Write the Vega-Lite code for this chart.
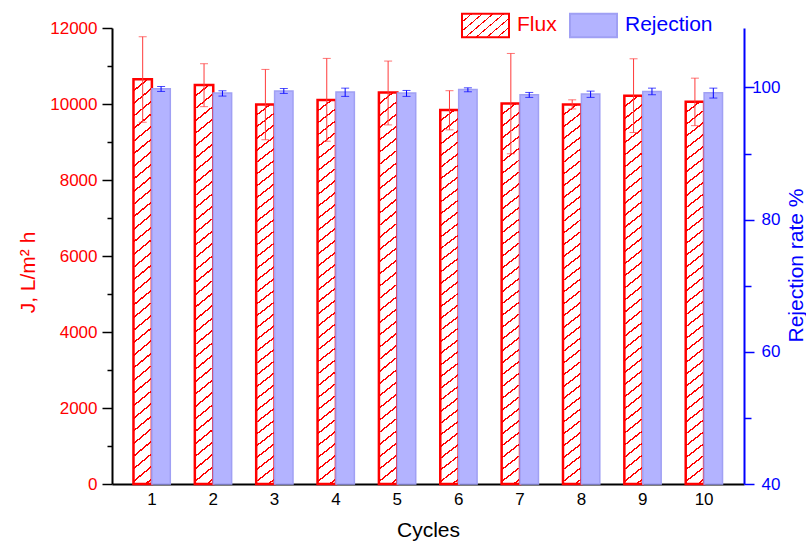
{
  "$schema": "https://vega.github.io/schema/vega-lite/v6.json",
  "width": 632,
  "height": 456,
  "autosize": "none",
  "padding": {"left": 112, "top": 28, "right": 62, "bottom": 59},
  "datasets": {
    "flux": [
      {"cycle": "1", "series": "Flux", "value": 10650, "lower": 9520, "upper": 11770},
      {"cycle": "2", "series": "Flux", "value": 10500, "lower": 9930, "upper": 11060},
      {"cycle": "3", "series": "Flux", "value": 9990, "lower": 9060, "upper": 10910},
      {"cycle": "4", "series": "Flux", "value": 10105, "lower": 9020, "upper": 11200},
      {"cycle": "5", "series": "Flux", "value": 10300, "lower": 9450, "upper": 11130},
      {"cycle": "6", "series": "Flux", "value": 9840, "lower": 9320, "upper": 10350},
      {"cycle": "7", "series": "Flux", "value": 10010, "lower": 8690, "upper": 11330},
      {"cycle": "8", "series": "Flux", "value": 9990, "lower": 9870, "upper": 10110},
      {"cycle": "9", "series": "Flux", "value": 10220, "lower": 9250, "upper": 11190},
      {"cycle": "10", "series": "Flux", "value": 10060, "lower": 9430, "upper": 10680}
    ],
    "rejection": [
      {"cycle": "1", "series": "Rejection", "value": 99.8, "lower": 99.4, "upper": 100.15},
      {"cycle": "2", "series": "Rejection", "value": 99.15, "lower": 98.7, "upper": 99.5},
      {"cycle": "3", "series": "Rejection", "value": 99.45, "lower": 99.1, "upper": 99.85},
      {"cycle": "4", "series": "Rejection", "value": 99.3, "lower": 98.65, "upper": 99.9},
      {"cycle": "5", "series": "Rejection", "value": 99.15, "lower": 98.65, "upper": 99.55},
      {"cycle": "6", "series": "Rejection", "value": 99.7, "lower": 99.35, "upper": 99.95},
      {"cycle": "7", "series": "Rejection", "value": 98.9, "lower": 98.5, "upper": 99.25},
      {"cycle": "8", "series": "Rejection", "value": 99.0, "lower": 98.5, "upper": 99.45},
      {"cycle": "9", "series": "Rejection", "value": 99.4, "lower": 98.9, "upper": 99.9},
      {"cycle": "10", "series": "Rejection", "value": 99.2, "lower": 98.4, "upper": 99.9}
    ]
  },
  "encoding": {
    "x": {
      "field": "cycle",
      "type": "ordinal",
      "sort": ["1", "2", "3", "4", "5", "6", "7", "8", "9", "10"],
      "scale": {"paddingInner": 0.4, "paddingOuter": 0.35},
      "axis": {
        "title": "Cycles",
        "labelAngle": 0,
        "ticks": false,
        "domainColor": "#000000",
        "domainWidth": 2,
        "labelColor": "#000000",
        "labelFontSize": 17,
        "labelPadding": 7,
        "titleFontSize": 21,
        "titleFontWeight": "normal",
        "titleColor": "#000000",
        "titlePadding": 12
      }
    },
    "xOffset": {"field": "series", "type": "nominal", "scale": {"domain": ["Flux", "Rejection"], "paddingInner": 0, "paddingOuter": 0}}
  },
  "layer": [
    {
      "data": {"name": "flux"},
      "mark": {
        "type": "bar",
        "stroke": "#FF0000",
        "strokeWidth": 2.5,
        "fill": {
          "gradient": "linear",
          "x1": 0, "y1": 0, "x2": 0.0391, "y2": 1.036,
          "stops": [
            {"offset": 0, "color": "#ffffff"}, {"offset": 0.0255, "color": "#ffffff"}, {"offset": 0.0255, "color": "#ff0000"}, {"offset": 0.03, "color": "#ff0000"},
            {"offset": 0.03, "color": "#ffffff"}, {"offset": 0.0555, "color": "#ffffff"}, {"offset": 0.0555, "color": "#ff0000"}, {"offset": 0.06, "color": "#ff0000"},
            {"offset": 0.06, "color": "#ffffff"}, {"offset": 0.0855, "color": "#ffffff"}, {"offset": 0.0855, "color": "#ff0000"}, {"offset": 0.09, "color": "#ff0000"},
            {"offset": 0.09, "color": "#ffffff"}, {"offset": 0.1155, "color": "#ffffff"}, {"offset": 0.1155, "color": "#ff0000"}, {"offset": 0.12, "color": "#ff0000"},
            {"offset": 0.12, "color": "#ffffff"}, {"offset": 0.1455, "color": "#ffffff"}, {"offset": 0.1455, "color": "#ff0000"}, {"offset": 0.15, "color": "#ff0000"},
            {"offset": 0.15, "color": "#ffffff"}, {"offset": 0.1755, "color": "#ffffff"}, {"offset": 0.1755, "color": "#ff0000"}, {"offset": 0.18, "color": "#ff0000"},
            {"offset": 0.18, "color": "#ffffff"}, {"offset": 0.2055, "color": "#ffffff"}, {"offset": 0.2055, "color": "#ff0000"}, {"offset": 0.21, "color": "#ff0000"},
            {"offset": 0.21, "color": "#ffffff"}, {"offset": 0.2355, "color": "#ffffff"}, {"offset": 0.2355, "color": "#ff0000"}, {"offset": 0.24, "color": "#ff0000"},
            {"offset": 0.24, "color": "#ffffff"}, {"offset": 0.2655, "color": "#ffffff"}, {"offset": 0.2655, "color": "#ff0000"}, {"offset": 0.27, "color": "#ff0000"},
            {"offset": 0.27, "color": "#ffffff"}, {"offset": 0.2955, "color": "#ffffff"}, {"offset": 0.2955, "color": "#ff0000"}, {"offset": 0.30, "color": "#ff0000"},
            {"offset": 0.30, "color": "#ffffff"}, {"offset": 0.3255, "color": "#ffffff"}, {"offset": 0.3255, "color": "#ff0000"}, {"offset": 0.33, "color": "#ff0000"},
            {"offset": 0.33, "color": "#ffffff"}, {"offset": 0.3555, "color": "#ffffff"}, {"offset": 0.3555, "color": "#ff0000"}, {"offset": 0.36, "color": "#ff0000"},
            {"offset": 0.36, "color": "#ffffff"}, {"offset": 0.3855, "color": "#ffffff"}, {"offset": 0.3855, "color": "#ff0000"}, {"offset": 0.39, "color": "#ff0000"},
            {"offset": 0.39, "color": "#ffffff"}, {"offset": 0.4155, "color": "#ffffff"}, {"offset": 0.4155, "color": "#ff0000"}, {"offset": 0.42, "color": "#ff0000"},
            {"offset": 0.42, "color": "#ffffff"}, {"offset": 0.4455, "color": "#ffffff"}, {"offset": 0.4455, "color": "#ff0000"}, {"offset": 0.45, "color": "#ff0000"},
            {"offset": 0.45, "color": "#ffffff"}, {"offset": 0.4755, "color": "#ffffff"}, {"offset": 0.4755, "color": "#ff0000"}, {"offset": 0.48, "color": "#ff0000"},
            {"offset": 0.48, "color": "#ffffff"}, {"offset": 0.5055, "color": "#ffffff"}, {"offset": 0.5055, "color": "#ff0000"}, {"offset": 0.51, "color": "#ff0000"},
            {"offset": 0.51, "color": "#ffffff"}, {"offset": 0.5355, "color": "#ffffff"}, {"offset": 0.5355, "color": "#ff0000"}, {"offset": 0.54, "color": "#ff0000"},
            {"offset": 0.54, "color": "#ffffff"}, {"offset": 0.5655, "color": "#ffffff"}, {"offset": 0.5655, "color": "#ff0000"}, {"offset": 0.57, "color": "#ff0000"},
            {"offset": 0.57, "color": "#ffffff"}, {"offset": 0.5955, "color": "#ffffff"}, {"offset": 0.5955, "color": "#ff0000"}, {"offset": 0.60, "color": "#ff0000"},
            {"offset": 0.60, "color": "#ffffff"}, {"offset": 0.6255, "color": "#ffffff"}, {"offset": 0.6255, "color": "#ff0000"}, {"offset": 0.63, "color": "#ff0000"},
            {"offset": 0.63, "color": "#ffffff"}, {"offset": 0.6555, "color": "#ffffff"}, {"offset": 0.6555, "color": "#ff0000"}, {"offset": 0.66, "color": "#ff0000"},
            {"offset": 0.66, "color": "#ffffff"}, {"offset": 0.6855, "color": "#ffffff"}, {"offset": 0.6855, "color": "#ff0000"}, {"offset": 0.69, "color": "#ff0000"},
            {"offset": 0.69, "color": "#ffffff"}, {"offset": 0.7155, "color": "#ffffff"}, {"offset": 0.7155, "color": "#ff0000"}, {"offset": 0.72, "color": "#ff0000"},
            {"offset": 0.72, "color": "#ffffff"}, {"offset": 0.7455, "color": "#ffffff"}, {"offset": 0.7455, "color": "#ff0000"}, {"offset": 0.75, "color": "#ff0000"},
            {"offset": 0.75, "color": "#ffffff"}, {"offset": 0.7755, "color": "#ffffff"}, {"offset": 0.7755, "color": "#ff0000"}, {"offset": 0.78, "color": "#ff0000"},
            {"offset": 0.78, "color": "#ffffff"}, {"offset": 0.8055, "color": "#ffffff"}, {"offset": 0.8055, "color": "#ff0000"}, {"offset": 0.81, "color": "#ff0000"},
            {"offset": 0.81, "color": "#ffffff"}, {"offset": 0.8355, "color": "#ffffff"}, {"offset": 0.8355, "color": "#ff0000"}, {"offset": 0.84, "color": "#ff0000"},
            {"offset": 0.84, "color": "#ffffff"}, {"offset": 0.8655, "color": "#ffffff"}, {"offset": 0.8655, "color": "#ff0000"}, {"offset": 0.87, "color": "#ff0000"},
            {"offset": 0.87, "color": "#ffffff"}, {"offset": 0.8955, "color": "#ffffff"}, {"offset": 0.8955, "color": "#ff0000"}, {"offset": 0.90, "color": "#ff0000"},
            {"offset": 0.90, "color": "#ffffff"}, {"offset": 0.9255, "color": "#ffffff"}, {"offset": 0.9255, "color": "#ff0000"}, {"offset": 0.93, "color": "#ff0000"},
            {"offset": 0.93, "color": "#ffffff"}, {"offset": 0.9555, "color": "#ffffff"}, {"offset": 0.9555, "color": "#ff0000"}, {"offset": 0.96, "color": "#ff0000"},
            {"offset": 0.96, "color": "#ffffff"}, {"offset": 0.9855, "color": "#ffffff"}, {"offset": 0.9855, "color": "#ff0000"}, {"offset": 0.99, "color": "#ff0000"},
            {"offset": 0.99, "color": "#ffffff"}, {"offset": 1, "color": "#ffffff"}
          ]
        }
      },
      "encoding": {
        "y": {
          "field": "value",
          "type": "quantitative",
          "scale": {"domain": [0, 12000], "nice": false},
          "axis": {
            "orient": "left",
            "title": null,
            "format": "d",
            "values": [0, 2000, 4000, 6000, 8000, 10000, 12000],
            "labelOverlap": false,
            "tickSize": 10,
            "tickColor": "#000000",
            "tickWidth": 1.5,
            "domainColor": "#000000",
            "domainWidth": 2,
            "grid": false,
            "labelColor": "#FF0000",
            "labelFontSize": 17,
            "labelPadding": 5
          }
        }
      }
    },
    {
      "data": {"name": "flux"},
      "mark": {"type": "rule", "color": "#FF3A3A", "strokeWidth": 1},
      "encoding": {
        "y": {"field": "lower", "type": "quantitative", "scale": {"domain": [0, 12000], "nice": false}, "axis": null},
        "y2": {"field": "upper"}
      }
    },
    {
      "data": {"name": "flux"},
      "mark": {"type": "tick", "color": "#FF3A3A", "size": 8, "thickness": 1},
      "encoding": {"y": {"field": "lower", "type": "quantitative", "scale": {"domain": [0, 12000], "nice": false}, "axis": null}}
    },
    {
      "data": {"name": "flux"},
      "mark": {"type": "tick", "color": "#FF3A3A", "size": 8, "thickness": 1},
      "encoding": {"y": {"field": "upper", "type": "quantitative", "scale": {"domain": [0, 12000], "nice": false}, "axis": null}}
    },
    {
      "data": {"name": "rejection"},
      "mark": {"type": "bar", "strokeWidth": 1.5, "fill": "#B3B3FF"},
      "encoding": {
        "y": {
          "field": "value",
          "type": "quantitative",
          "scale": {"domain": [40, 109], "nice": false, "zero": false},
          "axis": {
            "orient": "right",
            "title": null,
            "values": [40, 60, 80, 100],
            "labelOverlap": false,
            "tickSize": 10,
            "tickColor": "#0000FF",
            "tickWidth": 1.5,
            "domainColor": "#0000FF",
            "domainWidth": 2,
            "grid": false,
            "labelColor": "#0000FF",
            "labelFontSize": 17,
            "labelAlign": "right",
            "labelPadding": 26
          }
        },
        "y2": {"datum": 40},
        "stroke": {
          "field": "series",
          "type": "nominal",
          "scale": {"domain": ["Flux", "Rejection"], "range": ["#FF0000", "#A0A0F4"]},
          "legend": {
            "title": null,
            "orient": "none",
            "legendX": 349,
            "legendY": -27.5,
            "direction": "horizontal",
            "padding": 0,
            "symbolType": "M-1,-0.5H1V0.5H-1Z",
            "symbolSize": 2209,
            "symbolStrokeWidth": 2,
            "labelFontSize": 21,
            "labelOffset": 7,
            "columnPadding": 9,
            "labelColor": {"expr": "datum.value === 'Flux' ? '#FF0000' : '#0000FF'"},
            "encoding": {
              "symbols": {
                "fill": {"value": {"expr": "datum.value === 'Flux' ? {gradient: 'linear', x1: 0, y1: 0, x2: 1.18, y2: 0.696, stops: [{offset: 0, color: '#ffffff'}, {offset: 0.122, color: '#ffffff'}, {offset: 0.122, color: '#ff0000'}, {offset: 0.143, color: '#ff0000'}, {offset: 0.143, color: '#ffffff'}, {offset: 0.265, color: '#ffffff'}, {offset: 0.265, color: '#ff0000'}, {offset: 0.286, color: '#ff0000'}, {offset: 0.286, color: '#ffffff'}, {offset: 0.408, color: '#ffffff'}, {offset: 0.408, color: '#ff0000'}, {offset: 0.429, color: '#ff0000'}, {offset: 0.429, color: '#ffffff'}, {offset: 0.551, color: '#ffffff'}, {offset: 0.551, color: '#ff0000'}, {offset: 0.571, color: '#ff0000'}, {offset: 0.571, color: '#ffffff'}, {offset: 0.694, color: '#ffffff'}, {offset: 0.694, color: '#ff0000'}, {offset: 0.714, color: '#ff0000'}, {offset: 0.714, color: '#ffffff'}, {offset: 0.837, color: '#ffffff'}, {offset: 0.837, color: '#ff0000'}, {offset: 0.857, color: '#ff0000'}, {offset: 0.857, color: '#ffffff'}, {offset: 0.979, color: '#ffffff'}, {offset: 0.979, color: '#ff0000'}, {offset: 1, color: '#ff0000'}]} : '#B3B3FF'"}}
              }
            }
          }
        }
      }
    },
    {
      "data": {"name": "rejection"},
      "mark": {"type": "rule", "color": "#0000FF", "strokeWidth": 1},
      "encoding": {
        "y": {"field": "lower", "type": "quantitative", "scale": {"domain": [40, 109], "nice": false, "zero": false}, "axis": null},
        "y2": {"field": "upper"}
      }
    },
    {
      "data": {"name": "rejection"},
      "mark": {"type": "tick", "color": "#0000FF", "size": 8, "thickness": 1},
      "encoding": {"y": {"field": "lower", "type": "quantitative", "scale": {"domain": [40, 109], "nice": false, "zero": false}, "axis": null}}
    },
    {
      "data": {"name": "rejection"},
      "mark": {"type": "tick", "color": "#0000FF", "size": 8, "thickness": 1},
      "encoding": {"y": {"field": "upper", "type": "quantitative", "scale": {"domain": [40, 109], "nice": false, "zero": false}, "axis": null}}
    },
    {
      "data": {"name": "flux"},
      "mark": {"type": "point", "opacity": 0},
      "encoding": {
        "y": {
          "field": "value",
          "type": "quantitative",
          "scale": {"domain": [0, 12000], "nice": false},
          "axis": {
            "orient": "left",
            "title": "J, L/m² h",
            "values": [1000, 3000, 5000, 7000, 9000, 11000],
            "labels": false,
            "domain": false,
            "grid": false,
            "tickSize": 5,
            "tickColor": "#000000",
            "tickWidth": 1.5,
            "titleColor": "#FF0000",
            "titleFontSize": 21,
            "titleFontWeight": "normal",
            "titleAngle": -90,
            "titleBaseline": "middle",
            "titleAlign": "center",
            "titleX": -84,
            "titleY": 244
          }
        }
      }
    },
    {
      "data": {"name": "rejection"},
      "mark": {"type": "point", "opacity": 0},
      "encoding": {
        "y": {
          "field": "value",
          "type": "quantitative",
          "scale": {"domain": [40, 109], "nice": false, "zero": false},
          "axis": {
            "orient": "right",
            "title": "Rejection rate %",
            "values": [50, 70, 90],
            "labels": false,
            "domain": false,
            "grid": false,
            "tickSize": 7,
            "tickColor": "#0000FF",
            "tickWidth": 1.5,
            "titleColor": "#0000FF",
            "titleFontSize": 21,
            "titleFontWeight": "normal",
            "titleAngle": -90,
            "titleBaseline": "middle",
            "titleAlign": "center",
            "titleX": 52,
            "titleY": 237
          }
        }
      }
    }
  ],
  "resolve": {"scale": {"y": "independent"}},
  "config": {
    "font": "Liberation Sans",
    "view": {"stroke": null},
    "background": "#ffffff"
  }
}
